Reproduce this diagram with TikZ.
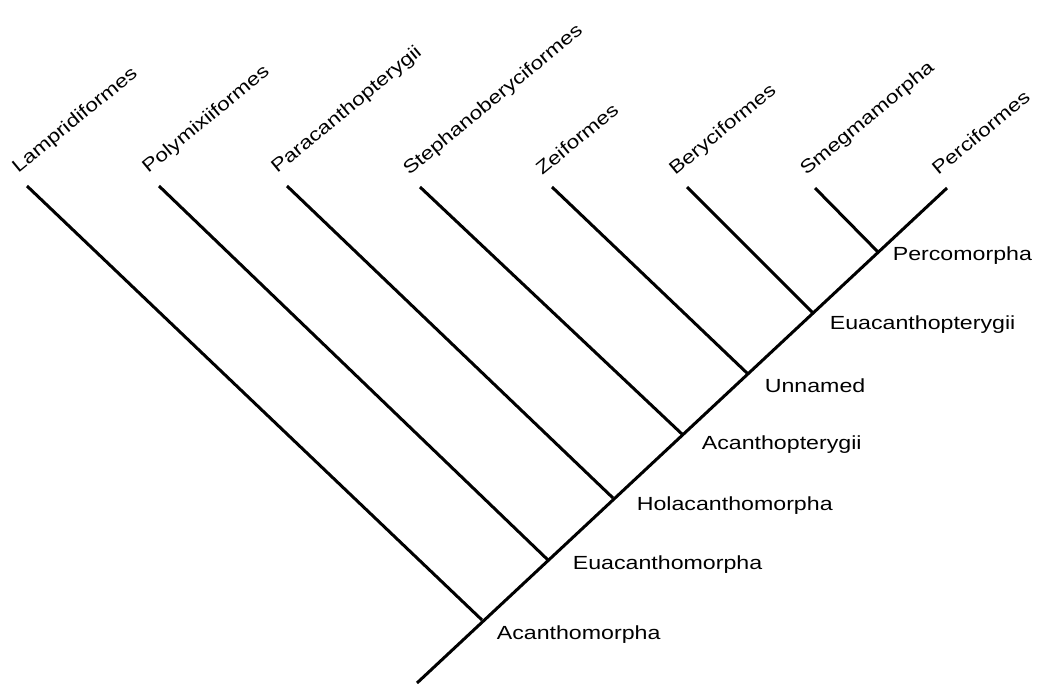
\documentclass[tikz,border=0pt]{standalone}
\usepackage{fontspec}
\setmainfont{Liberation Sans}
\usepackage{tikz}

\begin{document}
\begin{tikzpicture}[x=1pt,y=-1pt,line width=3pt,
	taxon/.style={anchor=base west,rotate=39.5,xscale=1.22,inner sep=0pt,font=\fontsize{18.5}{20}\selectfont},
	clade/.style={anchor=west,xscale=1.22,inner sep=0pt,font=\fontsize{19}{21}\selectfont}]
\useasboundingbox (0,0) rectangle (1039,683);
\coordinate (root) at (417,683);
\coordinate (acm) at (482,620);
\coordinate (euacm) at (548,560);
\coordinate (holacm) at (613,498);
\coordinate (acp) at (683,435);
\coordinate (unn) at (748,374);
\coordinate (euacp) at (813,313);
\coordinate (percm) at (878,252);
\coordinate (lamp) at (27,186);
\coordinate (poly) at (159,186);
\coordinate (para) at (287,186);
\coordinate (steph) at (420,187);
\coordinate (zei) at (552,187);
\coordinate (bery) at (687,187);
\coordinate (smeg) at (815,188);
\coordinate (perc) at (947,188);
\draw (root) -- (perc);
\draw (lamp) -- (acm);
\draw (poly) -- (euacm);
\draw (para) -- (holacm);
\draw (steph) -- (acp);
\draw (zei) -- (unn);
\draw (bery) -- (euacp);
\draw (smeg) -- (percm);
\node[taxon] (tlamp) at (17,175) {Lampridiformes};
\node[taxon] (tpoly) at (147,175) {Polymixiiformes};
\node[taxon] (tpara) at (276,175) {Paracanthopterygii};
\node[taxon] (tsteph) at (408,177) {Stephanoberyciformes};
\node[taxon] (tzei) at (541,177) {Zeiformes};
\node[taxon] (tbery) at (674,177) {Beryciformes};
\node[taxon] (tsmeg) at (805,177) {Smegmamorpha};
\node[taxon] (tperc) at (937,177) {Perciformes};
\node[clade] (lacm) at (495,635) {Acanthomorpha};
\node[clade] (leuacm) at (571,565) {Euacanthomorpha};
\node[clade] (lholacm) at (635,506) {Holacanthomorpha};
\node[clade] (lacp) at (700,445) {Acanthopterygii};
\node[clade] (lunn) at (763,386) {Unnamed};
\node[clade] (leuacp) at (828,325) {Euacanthopterygii};
\node[clade] (lpercm) at (891,256) {Percomorpha};
\end{tikzpicture}
\end{document}
